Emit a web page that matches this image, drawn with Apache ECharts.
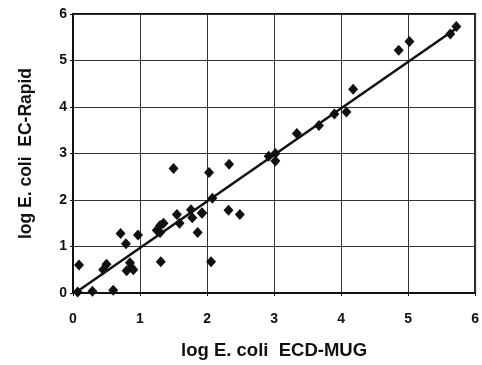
<!DOCTYPE html>
<html>
<head>
<meta charset="utf-8">
<script src="https://cdn.jsdelivr.net/npm/echarts@6/dist/echarts.min.js"></script>
<style>
  html, body {margin: 0; padding: 0; background: #fff;}
  #chart {width: 482px; height: 365px;}
</style>
</head>
<body>
<div id="chart"></div>
<script>
// log E. coli ECD-MUG (x) vs EC-Rapid (y)
const mugX = [0.07, 0.09, 0.29, 0.6, 0.45, 0.5, 0.71, 0.79, 0.97, 0.8, 0.87, 0.85, 0.9,
  1.31, 1.25, 1.3, 1.35, 1.3, 1.5, 1.55, 1.59, 1.76, 1.78, 1.86, 1.92, 1.93, 2.03, 2.06,
  2.08, 2.32, 2.33, 2.49, 2.92, 3.02, 3.02, 3.34, 3.67, 3.9, 4.08, 4.18, 4.86, 5.02, 5.63, 5.72];
const rapidY = [0.02, 0.6, 0.04, 0.06, 0.5, 0.62, 1.28, 1.06, 1.25, 0.48, 0.55, 0.65, 0.5,
  0.67, 1.35, 1.45, 1.5, 1.3, 2.68, 1.69, 1.5, 1.79, 1.62, 1.3, 1.72, 1.72, 2.59, 0.67,
  2.04, 1.78, 2.77, 1.69, 2.94, 3.0, 2.84, 3.43, 3.6, 3.85, 3.89, 4.38, 5.22, 5.41, 5.57, 5.73];
const fitX = [0.03, 5.75];
const fitY = [0.0, 5.72];
const ticks = [0, 1, 2, 3, 4, 5, 6];

const chart = echarts.init(document.getElementById('chart'));
const font = 'Liberation Sans, Arial, sans-serif';
const axisCommon = {
  type: 'value', min: 0, max: 6, interval: 1,
  axisLine: {show: true, lineStyle: {color: '#111', width: 2}},
  axisTick: {show: true, inside: false, length: 3, lineStyle: {color: '#111'}},
  splitLine: {show: true, lineStyle: {color: '#333', width: 1}},
  axisLabel: {color: '#111', fontFamily: font, fontSize: 14, fontWeight: 'bold',
    formatter: v => ticks.includes(v) ? String(v) : ''},
  nameLocation: 'middle',
  nameTextStyle: {color: '#111', fontFamily: font, fontWeight: 'bold'}
};
chart.setOption({
  animation: false,
  grid: {left: 73, right: 4, top: 14, bottom: 69, show: true, borderColor: '#111', borderWidth: 2},
  xAxis: Object.assign({}, axisCommon, {
    name: 'log E. coli  ECD-MUG', nameGap: 48,
    nameTextStyle: Object.assign({}, axisCommon.nameTextStyle, {fontSize: 18.5}),
    axisLabel: Object.assign({}, axisCommon.axisLabel, {margin: 19})
  }),
  yAxis: Object.assign({}, axisCommon, {
    name: 'log E. coli  EC-Rapid', nameGap: 38,
    nameTextStyle: Object.assign({}, axisCommon.nameTextStyle, {fontSize: 17.5}),
    axisLabel: Object.assign({}, axisCommon.axisLabel, {margin: 6})
  }),
  series: [{
    type: 'line',
    data: fitX.map((x, i) => [x, fitY[i]]),
    symbol: 'none',
    lineStyle: {color: '#111', width: 2.5}
  }, {
    type: 'scatter',
    data: mugX.map((x, i) => [x, rapidY[i]]),
    symbol: 'diamond',
    symbolSize: [10, 11],
    itemStyle: {color: '#111', opacity: 1}
  }]
});
</script>
</body>
</html>
